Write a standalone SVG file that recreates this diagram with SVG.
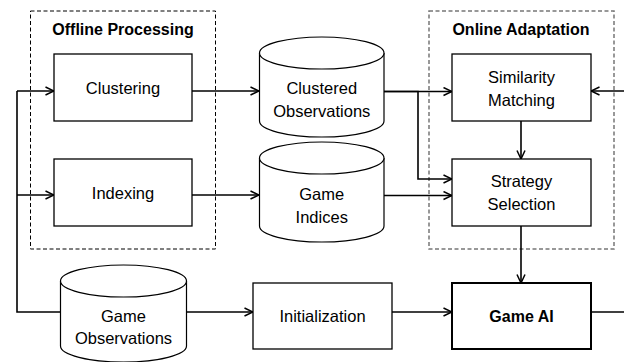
<svg xmlns="http://www.w3.org/2000/svg" width="624" height="362" viewBox="0 0 624 362">
<defs>
<style>
text{font-family:"Liberation Sans",Arial,sans-serif;font-size:16.5px;fill:#000;text-anchor:middle}
.t{font-weight:bold;font-size:16px}
.b{fill:#fff;stroke:#000;stroke-width:1.3}
.cyl{fill:#fff;stroke:#000;stroke-width:1.2}
.c{fill:none;stroke:#000;stroke-width:1.6}
.d1{fill:none;stroke:#000;stroke-width:1;stroke-dasharray:4,2.5}
.d2{fill:none;stroke:#777;stroke-width:1.5;stroke-dasharray:4,2.5}
</style>
<marker id="a" viewBox="0 0 10 10" refX="9.5" refY="5" markerWidth="10" markerHeight="10" markerUnits="userSpaceOnUse" orient="auto">
<path d="M1,1 L9.5,5 L1,9" fill="none" stroke="#000" stroke-width="1.5"/>
</marker>
</defs>
<rect x="0" y="0" width="624" height="362" fill="#fff"/>
<g id="offline-group">
<rect class="d1" x="30.5" y="11" width="185" height="238"/>
<text class="t" x="123" y="35">Offline Processing</text>
</g>
<g id="online-group">
<rect class="d2" x="429" y="11" width="185" height="238"/>
<text class="t" x="521" y="35">Online Adaptation</text>
</g>
<g id="connectors">
<path class="c" d="M17,91 V312 H60"/>
<path class="c" d="M17,91 H54" marker-end="url(#a)"/>
<path class="c" d="M17,195 H54" marker-end="url(#a)"/>
<path class="c" d="M192,91 H259" marker-end="url(#a)"/>
<path class="c" d="M192,195 H259" marker-end="url(#a)"/>
<path class="c" d="M384,91.5 H452" marker-end="url(#a)"/>
<path class="c" d="M384,91.5 H418 V179 H452" marker-end="url(#a)"/>
<path class="c" d="M384,195.5 H452" marker-end="url(#a)"/>
<path class="c" d="M521,121 V159" marker-end="url(#a)"/>
<path class="c" d="M521,226 V283" marker-end="url(#a)"/>
<path class="c" d="M187,312 H253" marker-end="url(#a)"/>
<path class="c" d="M392,312 H452" marker-end="url(#a)"/>
<path class="c" d="M591,312 H624"/>
<path class="c" d="M624,91 H591" marker-end="url(#a)"/>
</g>
<g id="clustering">
<rect class="b" x="54" y="54" width="138" height="67"/>
<text x="123" y="93.5">Clustering</text>
</g>
<g id="indexing">
<rect class="b" x="54" y="159" width="138" height="67"/>
<text x="123" y="198.5">Indexing</text>
</g>
<g id="clustered-observations">
<path class="cyl" d="M259.5,53 V121 A62.25,16 0 0 0 384,121 V53 A62.25,16 0 0 0 259.5,53 Z"/>
<path class="cyl" fill="none" d="M259.5,53 A62.25,16 0 0 0 384,53"/>
<text x="321.75" y="94">Clustered</text>
<text x="321.75" y="117">Observations</text>
</g>
<g id="game-indices">
<path class="cyl" d="M259.5,158 V226 A62.25,16 0 0 0 384,226 V158 A62.25,16 0 0 0 259.5,158 Z"/>
<path class="cyl" fill="none" d="M259.5,158 A62.25,16 0 0 0 384,158"/>
<text x="321.75" y="200">Game</text>
<text x="321.75" y="223">Indices</text>
</g>
<g id="game-observations">
<path class="cyl" d="M60.5,281 V346 A63,16 0 0 0 186.5,346 V281 A63,16 0 0 0 60.5,281 Z"/>
<path class="cyl" fill="none" d="M60.5,281 A63,16 0 0 0 186.5,281"/>
<text x="123.5" y="322">Game</text>
<text x="123.5" y="344">Observations</text>
</g>
<g id="similarity-matching">
<rect class="b" x="452" y="54" width="139" height="67"/>
<text x="521.5" y="83">Similarity</text>
<text x="521.5" y="106">Matching</text>
</g>
<g id="strategy-selection">
<rect class="b" x="452" y="159" width="139" height="67"/>
<text x="521.5" y="187">Strategy</text>
<text x="521.5" y="210">Selection</text>
</g>
<g id="initialization">
<rect class="b" x="253" y="283" width="139" height="66"/>
<text x="322.5" y="321.5">Initialization</text>
</g>
<g id="game-ai">
<rect class="b" style="stroke-width:2" x="452" y="283" width="139" height="66"/>
<text class="t" x="521.5" y="321.5">Game AI</text>
</g>
</svg>
